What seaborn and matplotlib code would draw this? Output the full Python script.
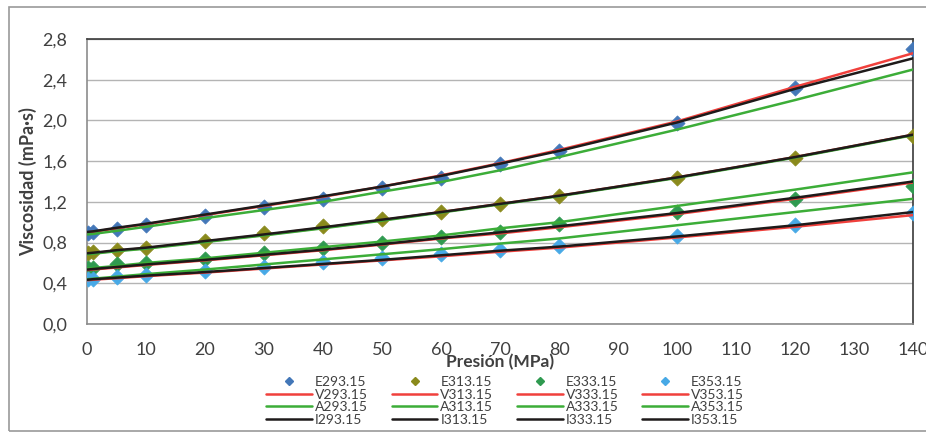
import matplotlib
matplotlib.use("Agg")
import matplotlib.pyplot as plt
from matplotlib.lines import Line2D
from matplotlib.patches import Rectangle
from matplotlib.ticker import FixedLocator, FuncFormatter
import seaborn as sns

# Pressure (MPa) at which viscosity is reported
pressure = [0.1, 1, 5, 10, 20, 30, 40, 50, 60, 70, 80, 100, 120, 140]
temperatures = ["293.15", "313.15", "333.15", "353.15"]

# Experimental viscosity (mPa·s)
E293 = [0.89, 0.90, 0.93, 0.97, 1.06, 1.15, 1.23, 1.34, 1.43, 1.57, 1.70, 1.97, 2.32, 2.70]
E313 = [0.70, 0.705, 0.73, 0.75, 0.815, 0.89, 0.96, 1.03, 1.10, 1.18, 1.26, 1.43, 1.63, 1.85]
E333 = [0.55, 0.555, 0.585, 0.60, 0.64, 0.70, 0.75, 0.80, 0.855, 0.90, 0.98, 1.10, 1.23, 1.36]
E353 = [0.44, 0.445, 0.46, 0.48, 0.52, 0.56, 0.61, 0.65, 0.69, 0.73, 0.77, 0.86, 0.97, 1.09]

# Model V
V293 = [0.90, 0.905, 0.94, 0.98, 1.07, 1.16, 1.25, 1.35, 1.46, 1.58, 1.71, 1.99, 2.33, 2.66]
V313 = [0.69, 0.695, 0.72, 0.745, 0.81, 0.875, 0.945, 1.02, 1.10, 1.18, 1.26, 1.44, 1.64, 1.86]
V333 = [0.53, 0.535, 0.555, 0.58, 0.625, 0.675, 0.725, 0.78, 0.84, 0.89, 0.95, 1.08, 1.23, 1.39]
V353 = [0.43, 0.435, 0.45, 0.47, 0.505, 0.545, 0.585, 0.625, 0.665, 0.71, 0.75, 0.85, 0.955, 1.07]

# Model A
A293 = [0.88, 0.885, 0.915, 0.955, 1.04, 1.12, 1.20, 1.30, 1.395, 1.51, 1.64, 1.91, 2.20, 2.50]
A313 = [0.685, 0.69, 0.715, 0.74, 0.805, 0.87, 0.94, 1.015, 1.095, 1.175, 1.255, 1.435, 1.635, 1.855]
A333 = [0.545, 0.55, 0.57, 0.60, 0.645, 0.70, 0.755, 0.81, 0.87, 0.94, 1.00, 1.16, 1.32, 1.49]
A353 = [0.44, 0.445, 0.465, 0.49, 0.535, 0.585, 0.635, 0.685, 0.735, 0.79, 0.84, 0.97, 1.10, 1.23]

# Model I
I293 = [0.905, 0.91, 0.945, 0.985, 1.075, 1.165, 1.255, 1.35, 1.455, 1.575, 1.70, 1.98, 2.31, 2.61]
I313 = [0.695, 0.70, 0.725, 0.75, 0.815, 0.88, 0.95, 1.025, 1.10, 1.18, 1.26, 1.44, 1.64, 1.86]
I333 = [0.535, 0.54, 0.56, 0.585, 0.63, 0.68, 0.73, 0.785, 0.845, 0.90, 0.96, 1.09, 1.24, 1.40]
I353 = [0.435, 0.44, 0.455, 0.475, 0.51, 0.55, 0.59, 0.63, 0.675, 0.72, 0.76, 0.86, 0.97, 1.10]

x_ticks = list(range(0, 141, 10))
y_ticks = [0.0, 0.4, 0.8, 1.2, 1.6, 2.0, 2.4, 2.8]

exp_series = [E293, E313, E333, E353]
v_series = [V293, V313, V333, V353]
a_series = [A293, A313, A333, A353]
i_series = [I293, I313, I333, I353]

marker_colors = ["#4377b8", "#8a8a1c", "#2f9a50", "#47a9e6"]
col_v, col_a, col_i = "#f0403c", "#3cad38", "#1e1a1a"

sns.set_theme(style="white")
plt.rcParams["font.family"] = ["Lato", "DejaVu Sans"]
text_col = "#404040"

fig = plt.figure(figsize=(9.26, 4.36), dpi=100)
ax = fig.add_axes([87 / 926, 1 - 324 / 436, (913 - 87) / 926, (324 - 39) / 436])

handles, labels = [], []
for k, t in enumerate(temperatures):
    sns.scatterplot(x=pressure, y=exp_series[k], ax=ax, marker="D", s=60,
                    color=marker_colors[k], edgecolor=marker_colors[k],
                    linewidth=0.5, legend=False, zorder=3)
    handles.append(Line2D([], [], ls="none", marker="D", ms=4.5,
                          color=marker_colors[k]))
    labels.append("E" + t)
    for series, col, prefix in ((v_series, col_v, "V"), (a_series, col_a, "A"),
                                (i_series, col_i, "I")):
        sns.lineplot(x=pressure, y=series[k], ax=ax, color=col, lw=1.8,
                     legend=False, zorder=4)
        handles.append(Line2D([], [], color=col, lw=1.8))
        labels.append(prefix + t)

ax.set_xlim(0, 140)
ax.set_ylim(0, 2.8)
ax.xaxis.set_major_locator(FixedLocator(x_ticks))
ax.yaxis.set_major_locator(FixedLocator(y_ticks))
ax.yaxis.set_major_formatter(FuncFormatter(lambda v, _: f"{v:.1f}".replace(".", ",")))
ax.grid(axis="y", color="#b4b4b4", lw=1.0)
ax.grid(axis="x", visible=False)
ax.tick_params(axis="both", length=0, labelsize=13, colors=text_col)
ax.tick_params(axis="x", pad=13)
ax.tick_params(axis="y", pad=14)
for side in ("left", "bottom"):
    ax.spines[side].set_color("#8c8c8c")
    ax.spines[side].set_linewidth(1.2)
for side in ("top", "right"):
    ax.spines[side].set_color("#3a3a3a")
    ax.spines[side].set_linewidth(1.2)

ax.set_xlabel("Presión (MPa)", fontsize=12.5, fontweight="bold", color=text_col,
              labelpad=-3)
ax.set_ylabel("Viscosidad (mPa·s)", fontsize=13, fontweight="bold", color=text_col,
              labelpad=4)

fig.legend(handles, labels, ncol=4, loc="center", bbox_to_anchor=(505 / 926, 1 - 401 / 436),
           frameon=False, fontsize=10, handlelength=3.3, handletextpad=0.2,
           columnspacing=1.7, labelspacing=0.05, borderaxespad=0, labelcolor=text_col)

fig.patches.append(Rectangle((9 / 926, 1 - 431 / 436), 920 / 926, 424 / 436,
                             transform=fig.transFigure, fill=False,
                             edgecolor="#9a9a9a", lw=1.2))

fig.savefig("out.png", dpi=100)
